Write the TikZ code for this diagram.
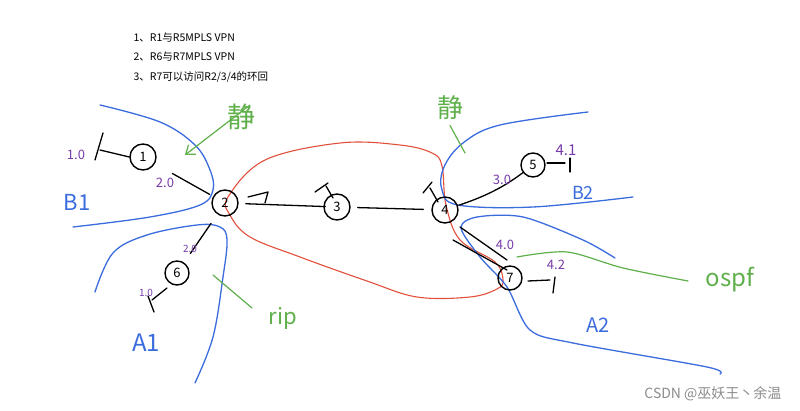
\documentclass[tikz,border=0pt]{standalone}
\usepackage{fontspec}
\setmainfont{Noto Sans CJK SC}
\usetikzlibrary{arrows.meta,calc}
\definecolor{hblue}{RGB}{59,108,222}
\definecolor{hred}{RGB}{226,80,60}
\definecolor{hgreen}{RGB}{95,176,75}
\definecolor{hpurple}{RGB}{120,60,170}
\tikzset{
  router/.style={draw, circle, line width=1.4pt, minimum size=26pt, inner sep=0pt, font=\fontsize{13}{13}\selectfont},
  link/.style={line width=1.3pt},
  arealine/.style={hblue, line width=1.3pt},
  loopline/.style={hred, line width=1.1pt},
  protoline/.style={hgreen, line width=1.2pt},
  addr/.style={hpurple, font=\fontsize{#1}{#1}\selectfont},
  arealbl/.style={hblue, font=\fontsize{#1}{#1}\selectfont},
  protolbl/.style={hgreen, font=\fontsize{#1}{#1}\selectfont},
  note/.style={anchor=west, font=\fontsize{10.5}{10.5}\selectfont}
}
\begin{document}
\begin{tikzpicture}[x=1pt,y=-1pt,line cap=round,line join=round]
\useasboundingbox[fill=white] (0,0) rectangle (800,411);
% notes
\node[note] (t1) at (130,38) {1、R1与R5MPLS VPN};
\node[note] (t2) at (130,57) {2、R6与R7MPLS VPN};
\node[note] (t3) at (130,77) {3、R7可以访问R2/3/4的环回};
% red MPLS loop
\draw[loopline] plot[smooth cycle, tension=0.6] coordinates {(228,197) (265,160) (340,143) (400,145) (432,153) (442,166) (446,205) (460,240) (495,262) (503,280) (497,289) (470,297) (417,297) (367,281) (300,257) (250,237) (230,215)};
% blue area boundaries
\draw[arealine] plot[smooth, tension=0.6] coordinates {(100,105) (160,122) (195,145) (210,170) (213,190) (200,205) (150,217) (73,227)};
\draw[arealine] plot[smooth, tension=0.6] coordinates {(95,292) (113,253) (147,235) (197,225) (220,227) (227,240) (223,277) (213,337) (195,383)};
\draw[arealine] plot[smooth, tension=0.6] coordinates {(588,112) (500,125) (463,143) (444,167) (442,190) (458,205) (533,207) (633,197)};
\draw[arealine] plot[smooth, tension=0.5] coordinates {(615,258) (583,240) (523,217) (477,217) (461,228) (480,257) (507,287) (530,330) (573,343) (707,367) (720,374)};
% routers
\node[router] (r1) at (143,157) {1};
\node[router] (r2) at (225,203) {2};
\node[router] (r3) at (337,207) {3};
\node[router] (r4) at (445,210) {4};
\node[router, minimum size=24pt] (r5) at (533,165) {5};
\node[router, minimum size=24pt] (r6) at (177,273) {6};
\node[router, minimum size=24pt] (r7) at (510,278) {7};
% links
\draw[link, shorten <=20pt, shorten >=4pt] (r1) -- (r2);
\draw[link, shorten <=7pt, shorten >=-2pt] (r2) -- (r3);
\draw[link, shorten <=7pt, shorten >=8pt] (r3) -- (r4);
\draw[link, shorten <=1pt, shorten >=0pt] (r4) .. controls (480,198) and (500,190) .. (r5);
\draw[link, shorten <=11pt, shorten >=11pt] (r2) -- (r6);
\draw[link] ($(r4)+(8,30)$) -- ($(r7)+(-3,-8)$);
\draw[link] ($(r4)+(15,17)$) -- ($(r7)+(-3,-18)$);
% loopback marks
\coordinate (lb1) at (100,150);
\draw[link] (r1.west) -- (lb1);
\draw[link] (103,133) -- (95,160);
\draw[link] (248,197) -- (268,192) -- (265,203);
\draw[link] (315,192) -- (328,183);
\draw[link] (326,186) -- (333,198);
\draw[link] (423,193) -- (432,182);
\draw[link] (430,188) -- (438,202);
\draw[link] (547,163) -- (565,163);
\draw[link] (570,158) -- (570,172);
\draw[link] (167,288) -- (152,300);
\draw[link] (148,296) -- (154,312);
\draw[link] (528,281) -- (550,280);
\draw[link] (555,277) -- (553,293);
% addresses
\node[addr=13] (a1) at (76,155) {1.0};
\node[addr=13] (a2) at (165,183) {2.0};
\node[addr=10] (a3) at (190,249) {2.0};
\node[addr=10] (a4) at (146,293) {1.0};
\node[addr=13] (a5) at (502,180) {3.0};
\node[addr=15] (a6) at (566,150) {4.1};
\node[addr=13] (a7) at (505,245) {4.0};
\node[addr=13] (a8) at (556,265) {4.2};
% area labels
\node[arealbl=22] (B1) at (77,202) {B1};
\node[arealbl=24] (A1) at (146,343) {A1};
\node[arealbl=18] (B2) at (583,193) {B2};
\node[arealbl=20] (A2) at (598,325) {A2};
% protocol labels
\node[protolbl=28] (s1) at (241,117) {静};
\draw[protoline, -{Straight Barb[length=8pt,width=12pt]}] (250,105) -- (185,155);
\node[protolbl=26] (s2) at (450,108) {静};
\draw[protoline] (s2.south) ++(0,2) -- (465,153);
\node[protolbl=22] (rip) at (283,318) {rip};
\coordinate (ripend) at (252,308);
\draw[protoline] (213,275) -- (ripend);
\node[protolbl=24] (ospf) at (730,280) {ospf};
\draw[protoline] plot[smooth] coordinates {(517,257) (567,252) (623,268) (688,281)};
% watermark
\node[anchor=east, text=black!45, font=\fontsize{14}{14}\selectfont] (wm) at (785,394) {CSDN @巫妖王丶余温};
\end{tikzpicture}
\end{document}
